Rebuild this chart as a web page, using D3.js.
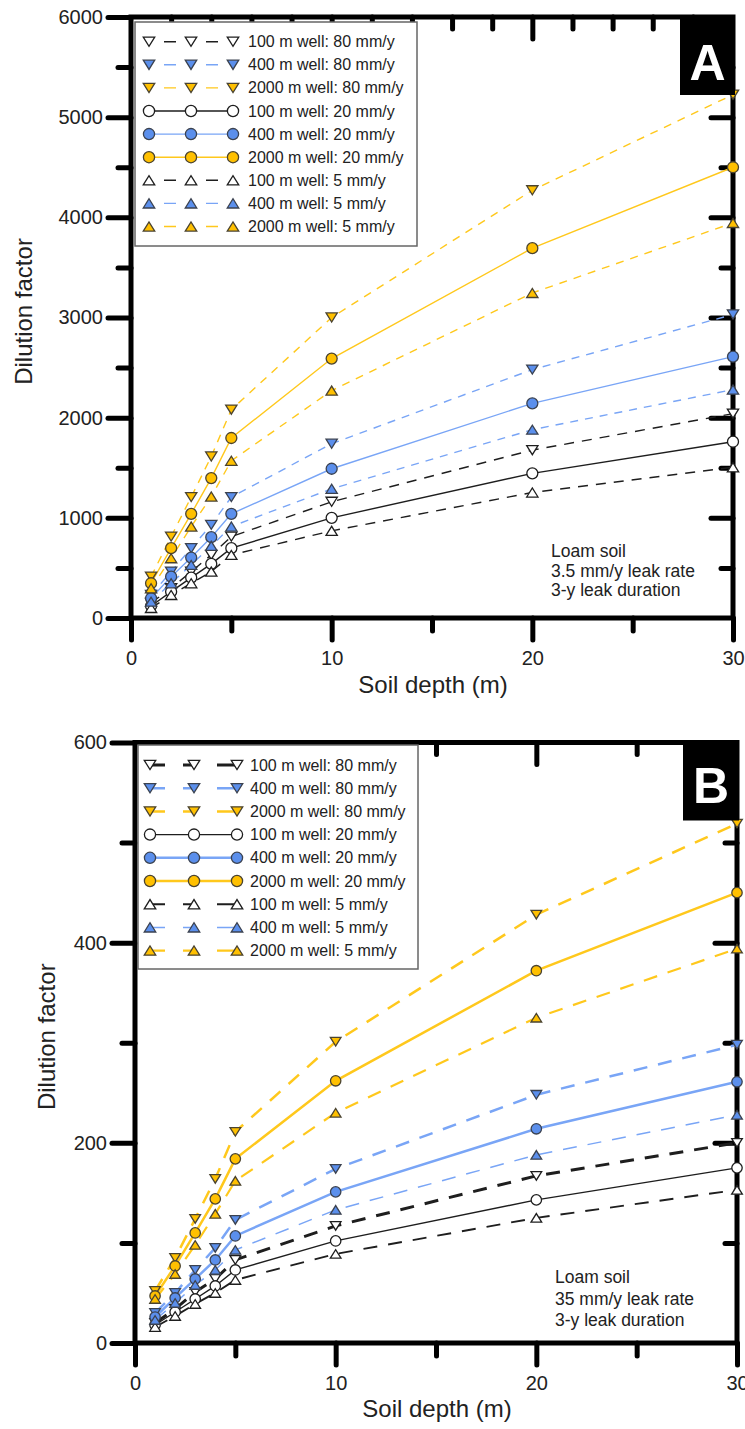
<!DOCTYPE html>
<html>
<head>
<meta charset="utf-8">
<script src="https://cdn.jsdelivr.net/npm/d3@7"></script>
<style>
  body { margin: 0; background: #fff; }
  svg { display: block; }
  text { font-family: "Liberation Sans", Arial, sans-serif; fill: #222; }
</style>
</head>
<body>
<svg id="fig" width="745" height="1429"></svg>
<script>
// ---- data ---------------------------------------------------------------
const depths = [1, 2, 3, 4, 5, 10, 20, 30];

const seriesLabels = [
  "100 m well: 80 mm/y", "400 m well: 80 mm/y", "2000 m well: 80 mm/y",
  "100 m well: 20 mm/y", "400 m well: 20 mm/y", "2000 m well: 20 mm/y",
  "100 m well: 5 mm/y",  "400 m well: 5 mm/y",  "2000 m well: 5 mm/y"
];
const seriesWell = [100, 400, 2000, 100, 400, 2000, 100, 400, 2000];
const seriesRecharge = [80, 80, 80, 20, 20, 20, 5, 5, 5];

// Panel A: 3.5 mm/y leak rate
const a100_80  = [150, 297, 463, 630, 813, 1160, 1676, 2040];
const a400_80  = [230, 463, 697, 930, 1207, 1740, 2480, 3030];
const a2000_80 = [413, 813, 1207, 1613, 2080, 3000, 4270, 5225];
const a100_20  = [120, 263, 403, 540, 697, 1000, 1444, 1760];
const a400_20  = [197, 413, 603, 807, 1040, 1490, 2143, 2610];
const a2000_20 = [347, 697, 1040, 1397, 1797, 2590, 3692, 4500];
const a100_5   = [100, 230, 347, 463, 630, 870, 1253, 1505];
const a400_5   = [163, 347, 530, 720, 913, 1290, 1880, 2280];
const a2000_5  = [297, 597, 913, 1213, 1570, 2270, 3245, 3944];

// Panel B: 35 mm/y leak rate
const b100_80  = [20, 34, 51, 64, 83, 117, 167, 200];
const b400_80  = [30, 50, 73, 95, 123, 174, 248, 298];
const b2000_80 = [52, 85, 124, 164, 211, 301, 428, 519];
const b100_20  = [18, 31, 44, 57, 73, 102, 143, 175];
const b400_20  = [26, 45, 64, 83, 107, 151, 214, 261];
const b2000_20 = [47, 77, 110, 144, 184, 262, 372, 450];
const b100_5   = [16, 27, 39, 50, 63, 89, 125, 153];
const b400_5   = [23, 40, 58, 73, 93, 133, 188, 228];
const b2000_5  = [44, 69, 98, 129, 162, 230, 325, 394];

const panelAValues = [a100_80, a400_80, a2000_80, a100_20, a400_20, a2000_20, a100_5, a400_5, a2000_5];
const panelBValues = [b100_80, b400_80, b2000_80, b100_20, b400_20, b2000_20, b100_5, b400_5, b2000_5];

const yTicksA = [0, 1000, 2000, 3000, 4000, 5000, 6000];
const yTicksB = [0, 200, 400, 600];
const xTicks = [0, 10, 20, 30];

const notesA = ["Loam soil", "3.5 mm/y leak rate", "3-y leak duration"];
const notesB = ["Loam soil", "35 mm/y leak rate", "3-y leak duration"];

// ---- styling ------------------------------------------------------------
const wellStyle = {
  100:  { line: "#1e1e1e", fill: "#ffffff", stroke: "#1e1e1e" },
  400:  { line: "#79a5f6", fill: "#5b8fec", stroke: "#3b4250" },
  2000: { line: "#ffc81c", fill: "#ffc000", stroke: "#4a4330" }
};
const markerShape = { 80: "down", 20: "circle", 5: "up" };

function markerPath(shape, r) {
  if (shape === "circle") {
    return `M${-r},0A${r},${r} 0 1,0 ${r},0A${r},${r} 0 1,0 ${-r},0Z`;
  }
  const w = r * 2.05, h = r * 1.65;
  return shape === "down"
    ? `M${-w/2},${-h/2}L${w/2},${-h/2}L0,${h/2}Z`
    : `M${-w/2},${h/2}L${w/2},${h/2}L0,${-h/2}Z`;
}

const svg = d3.select("#fig");

function drawPanel(cfg) {
  const x = d3.scaleLinear().domain([0, 30]).range(cfg.xRange);
  const y = d3.scaleLinear().domain(cfg.yDomain).range(cfg.yRange);
  const g = svg.append("g");
  const [x0, x1] = cfg.xRange;
  const [yb, yt] = cfg.yRange;

  // frame
  g.append("rect")
    .attr("x", x0).attr("y", yt).attr("width", x1 - x0).attr("height", yb - yt)
    .attr("fill", "none").attr("stroke", "#000").attr("stroke-width", 5);

  const styleAxis = (sel, labels) => {
    sel.select(".domain").remove();
    sel.selectAll(".tick line").attr("stroke", "#000").attr("stroke-width", 5)
      .attr("stroke-linecap", "round");
    sel.selectAll(".tick text").style("font-size", "20px").attr("fill", "#222");
    if (!labels) sel.selectAll(".tick text").remove();
  };

  // left axis (outward ticks)
  g.append("g").attr("transform", `translate(${x0},0)`)
    .call(d3.axisLeft(y).tickValues(cfg.yMajor).tickSize(23).tickPadding(5).tickFormat(d3.format("d")))
    .call(s => styleAxis(s, true));
  g.append("g").attr("transform", `translate(${x0},0)`)
    .call(d3.axisLeft(y).tickValues(cfg.yMinor).tickSize(13).tickFormat(""))
    .call(s => styleAxis(s, false));

  // bottom axis (outward ticks)
  g.append("g").attr("transform", `translate(0,${yb})`)
    .call(d3.axisBottom(x).tickValues(xTicks).tickSize(22).tickPadding(11).tickFormat(d3.format("d")))
    .call(s => styleAxis(s, true));
  g.append("g").attr("transform", `translate(0,${yb})`)
    .call(d3.axisBottom(x).tickValues([5, 15, 25]).tickSize(13).tickFormat(""))
    .call(s => styleAxis(s, false));

  // top and right frame ticks (inward)
  const topMajor = cfg.topTicks.filter(v => v % 10 === 0 && v > 0 && v < 30);
  const topMinor = cfg.topTicks.filter(v => v % 10 !== 0);
  g.append("g").attr("transform", `translate(0,${yt})`)
    .call(d3.axisTop(x).tickValues(topMajor).tickSize(-22).tickFormat(""))
    .call(s => styleAxis(s, false));
  g.append("g").attr("transform", `translate(0,${yt})`)
    .call(d3.axisTop(x).tickValues(topMinor).tickSize(-12).tickFormat(""))
    .call(s => styleAxis(s, false));
  g.append("g").attr("transform", `translate(${x1},0)`)
    .call(d3.axisRight(y).tickValues(cfg.rightMajor).tickSize(-22).tickFormat(""))
    .call(s => styleAxis(s, false));
  g.append("g").attr("transform", `translate(${x1},0)`)
    .call(d3.axisRight(y).tickValues(cfg.rightMinor).tickSize(-12).tickFormat(""))
    .call(s => styleAxis(s, false));

  // axis titles
  g.append("text")
    .attr("x", (x0 + x1) / 2 + 1).attr("y", cfg.xTitleY)
    .attr("text-anchor", "middle").style("font-size", "24px")
    .text("Soil depth (m)");
  g.append("text")
    .attr("transform", `translate(${cfg.yTitleX},${(yb + yt) / 2 - 6}) rotate(-90)`)
    .attr("text-anchor", "middle").style("font-size", "24px")
    .text("Dilution factor");

  // notes
  cfg.notes.forEach((t, i) => {
    g.append("text").attr("x", cfg.noteX).attr("y", cfg.noteY + i * cfg.noteStep)
      .style("font-size", "17.5px").attr("fill", "#333").text(t);
  });

  // series lines
  const line = d3.line().x((d, i) => x(depths[i])).y(d => y(d));
  cfg.values.forEach((vals, s) => {
    const st = wellStyle[seriesWell[s]];
    const dashed = seriesRecharge[s] !== 20;
    g.append("path").datum(vals)
      .attr("d", line)
      .attr("fill", "none")
      .attr("stroke", st.line)
      .attr("stroke-width", cfg.widths[s])
      .attr("stroke-dasharray", dashed ? (seriesWell[s] === 100 ? cfg.dashBlack : cfg.dash) : null);
  });

  // series markers
  cfg.values.forEach((vals, s) => {
    const st = wellStyle[seriesWell[s]];
    g.append("g").selectAll("path").data(vals).join("path")
      .attr("transform", (d, i) => `translate(${x(depths[i])},${y(d)})`)
      .attr("d", markerPath(markerShape[seriesRecharge[s]], cfg.markerR))
      .attr("fill", st.fill).attr("stroke", st.stroke).attr("stroke-width", 1.3);
  });

  // legend
  const L = cfg.legend;
  g.append("rect").attr("x", L.x).attr("y", L.y).attr("width", L.w).attr("height", L.h)
    .attr("fill", "#fff").attr("stroke", "#666").attr("stroke-width", 1.5);
  seriesLabels.forEach((lab, s) => {
    const st = wellStyle[seriesWell[s]];
    const ry = L.row0 + s * L.rowStep;
    const dashed = seriesRecharge[s] !== 20;
    g.append("line").attr("x1", L.mx[0]).attr("x2", L.mx[2]).attr("y1", ry).attr("y2", ry)
      .attr("stroke", st.line).attr("stroke-width", cfg.widths[s])
      .attr("stroke-dasharray", dashed ? L.dash : null)
      .attr("stroke-dashoffset", dashed ? L.dashOffset : null);
    L.mx.forEach(mx => {
      g.append("path").attr("transform", `translate(${mx},${ry})`)
        .attr("d", markerPath(markerShape[seriesRecharge[s]], 5.6))
        .attr("fill", st.fill).attr("stroke", st.stroke).attr("stroke-width", 1.3);
    });
    g.append("text").attr("x", L.tx).attr("y", ry + 5.5)
      .style("font-size", "16px").attr("fill", "#222").text(lab);
  });

  // panel letter
  g.append("rect").attr("x", cfg.tag.x).attr("y", yt - 2).attr("width", x1 + 2 - cfg.tag.x).attr("height", cfg.tag.h)
    .attr("fill", "#000");
  g.append("text").attr("x", (cfg.tag.x + x1 + 2) / 2).attr("y", cfg.tag.base)
    .attr("text-anchor", "middle").style("font-size", "50px").style("font-weight", "bold")
    .attr("fill", "#fff").style("fill", "#fff").text(cfg.tag.letter);
}

drawPanel({
  xRange: [131, 733], yRange: [618, 17], yDomain: [0, 6000],
  yMajor: yTicksA, yMinor: d3.range(500, 6000, 1000),
  topTicks: d3.range(2, 30, 2),
  rightMajor: d3.range(1000, 6000, 1000), rightMinor: d3.range(500, 6000, 1000),
  values: panelAValues,
  widths: [1.4, 1.4, 1.4, 1.4, 1.4, 1.4, 1.4, 1.4, 1.4],
  dash: "8,7", dashBlack: "10,8",
  markerR: 5.5,
  xTitleY: 693, yTitleX: 32,
  notes: notesA, noteX: 551, noteY: 557, noteStep: 19.5,
  legend: { x: 135, y: 22, w: 282, h: 224, row0: 41.7, rowStep: 23.1, mx: [149, 191, 233], tx: 248,
            dash: "12,30", dashOffset: 27 },
  tag: { x: 680, h: 80, base: 80, letter: "A" }
});

drawPanel({
  xRange: [135, 737], yRange: [1343, 742.5], yDomain: [0, 600],
  yMajor: yTicksB, yMinor: [100, 300, 500],
  topTicks: d3.range(5, 30, 5),
  rightMajor: [200, 400], rightMinor: [100, 300, 500],
  values: panelBValues,
  widths: [3, 2.5, 2.5, 1.4, 2.5, 2.5, 1.9, 1.5, 2.2],
  dash: "14,11", dashBlack: "14,11",
  markerR: 5.2,
  xTitleY: 1417, yTitleX: 55,
  notes: notesB, noteX: 555, noteY: 1283, noteStep: 21.5,
  legend: { x: 138, y: 745, w: 280, h: 224, row0: 765, rowStep: 23.2, mx: [150, 194, 237], tx: 250,
            dash: "15,18,11,23,20,40", dashOffset: 0 },
  tag: { x: 683, h: 80, base: 803, letter: "B" }
});
</script>
</body>
</html>
